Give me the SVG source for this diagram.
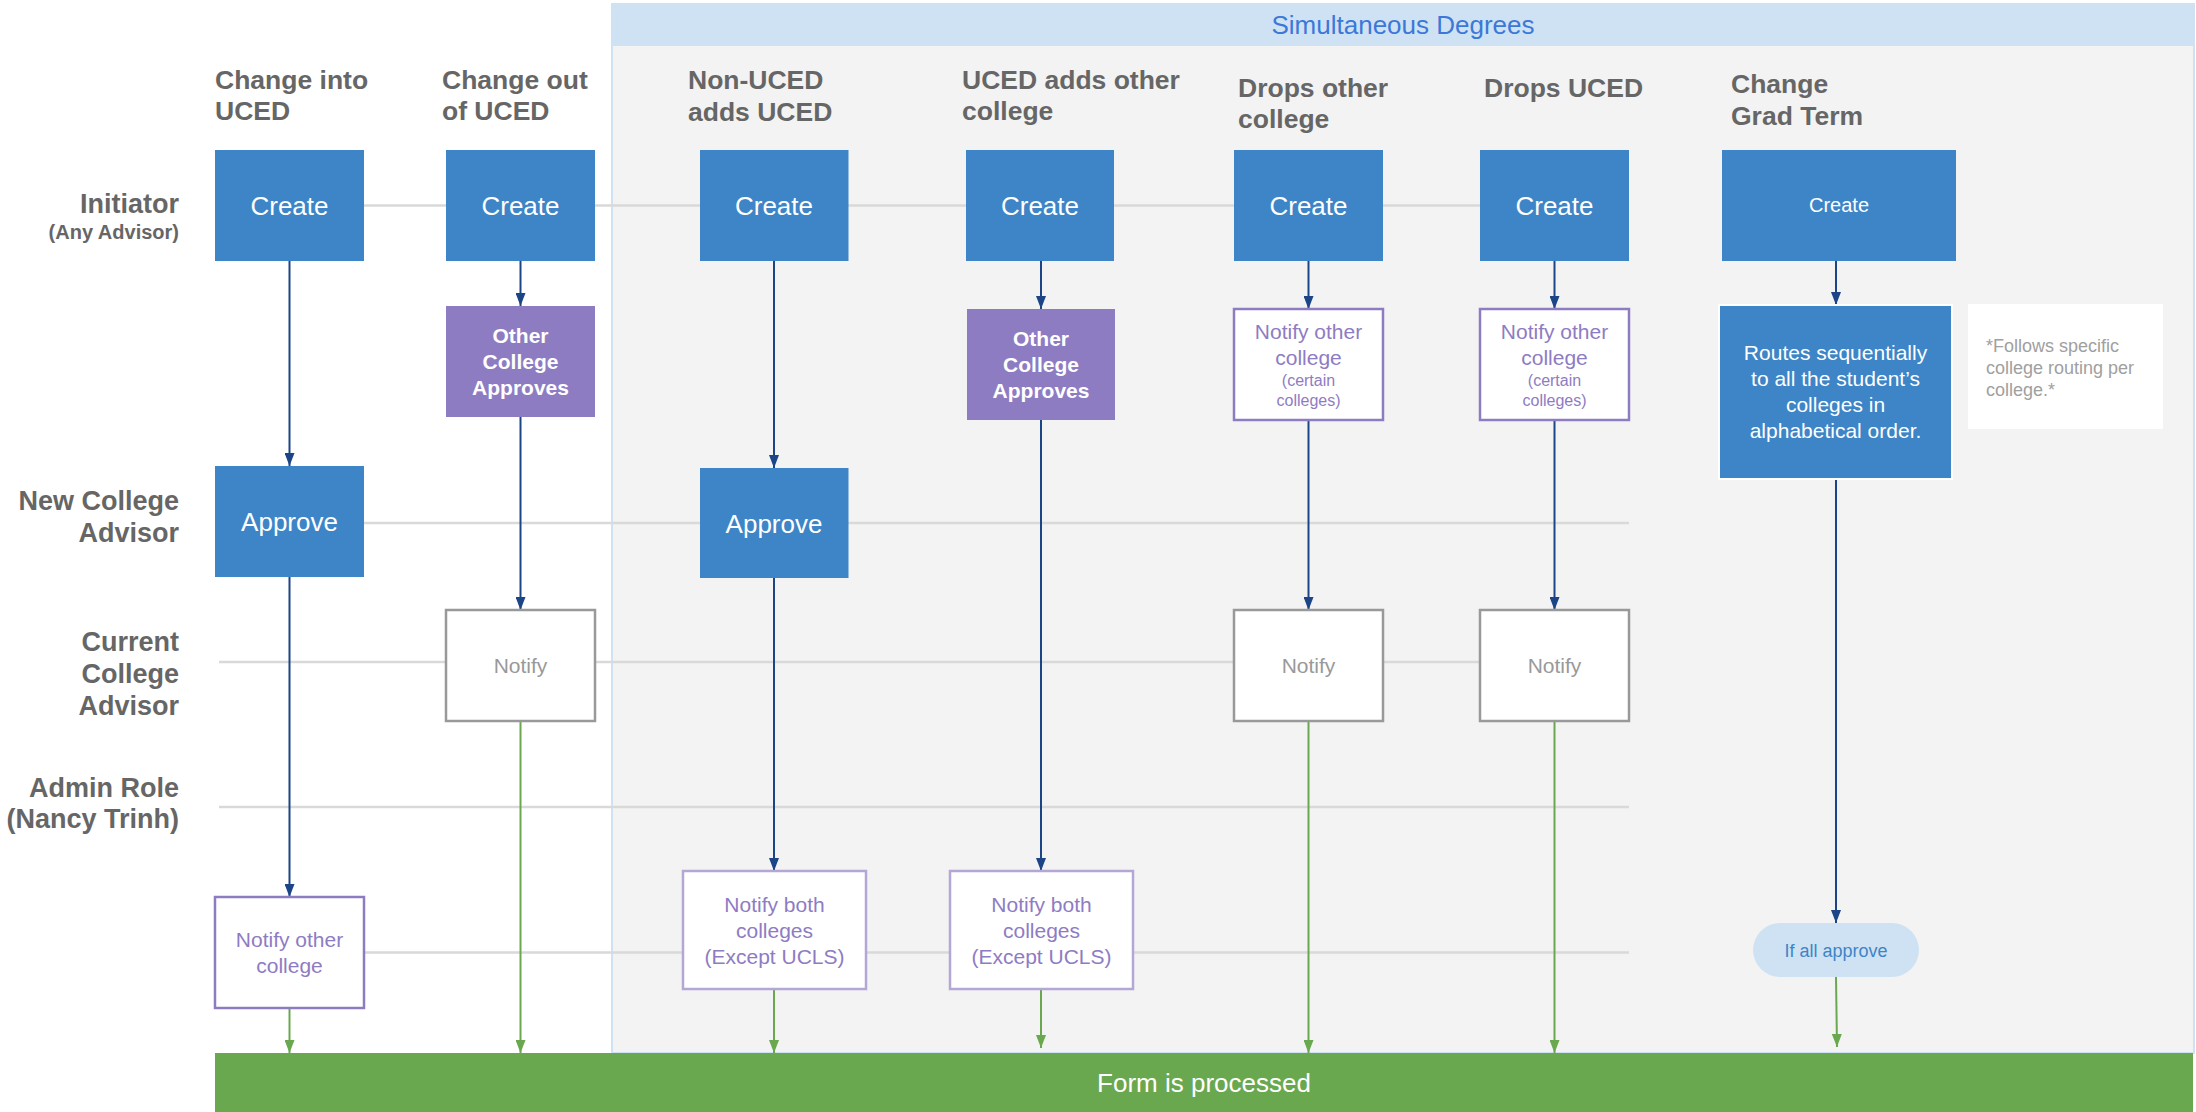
<svg xmlns="http://www.w3.org/2000/svg" width="2196" height="1112" viewBox="0 0 2196 1112">
<defs>
<style>
.t{font-family:"Liberation Sans",Arial,sans-serif}
.hdr{font-family:"Liberation Sans",Arial,sans-serif;font-weight:bold;font-size:26.5px;fill:#666666}
.lane{font-family:"Liberation Sans",Arial,sans-serif;font-weight:bold;font-size:27px;fill:#666666;text-anchor:end}
.lanes{font-family:"Liberation Sans",Arial,sans-serif;font-weight:bold;font-size:20px;fill:#666666;text-anchor:end}
.blue{fill:#3d85c6}
.purple{fill:#8e7cc3}
.wt{font-family:"Liberation Sans",Arial,sans-serif;fill:#ffffff;text-anchor:middle}
.pt{font-family:"Liberation Sans",Arial,sans-serif;fill:#8e7cc3;text-anchor:middle;font-size:21px}
.pts{font-family:"Liberation Sans",Arial,sans-serif;fill:#8e7cc3;text-anchor:middle;font-size:16px}
.gt{font-family:"Liberation Sans",Arial,sans-serif;fill:#999999;text-anchor:middle;font-size:21px}
.gbox{fill:#ffffff;stroke:#999999;stroke-width:2.5}
.pbox{fill:#ffffff;stroke:#8e7cc3;stroke-width:2.5}
.lbox{fill:#ffffff;stroke:#b4a7d6;stroke-width:2.5}
.ln{stroke:#d9d9d9;stroke-width:2.5;fill:none}
.cb{stroke:#1c4587;stroke-width:2;fill:none;marker-end:url(#ab)}
.cg{stroke:#6aa84f;stroke-width:2;fill:none;marker-end:url(#ag)}
</style>
<marker id="ab" viewBox="0 0 13 10" refX="13" refY="5" markerWidth="13" markerHeight="10" markerUnits="userSpaceOnUse" orient="auto"><path d="M0,0 L13,5 L0,10 z" fill="#1c4587"/></marker>
<marker id="ag" viewBox="0 0 13 10" refX="13" refY="5" markerWidth="13" markerHeight="10" markerUnits="userSpaceOnUse" orient="auto"><path d="M0,0 L13,5 L0,10 z" fill="#6aa84f"/></marker>
</defs>
<rect width="2196" height="1112" fill="#ffffff"/>
<g id="panel">
<rect x="612" y="4" width="1582" height="1049" fill="#f3f3f3" stroke="#cfe2f3" stroke-width="2"/>
<rect x="612" y="4" width="1582" height="42" fill="#cfe2f3"/>
<text class="t" x="1403" y="34" font-size="26" fill="#3c78d8" text-anchor="middle">Simultaneous Degrees</text>
</g>
<g id="lanes">
<line class="ln" x1="364" y1="205.5" x2="1480" y2="205.5"/>
<line class="ln" x1="364" y1="523" x2="1629" y2="523"/>
<line class="ln" x1="219" y1="662" x2="1629" y2="662"/>
<line class="ln" x1="219" y1="807" x2="1629" y2="807"/>
<line class="ln" x1="364" y1="952.5" x2="1629" y2="952.5"/>
</g>
<g id="lane-labels">
<text class="lane" x="179" y="213">Initiator</text>
<text class="lanes" x="179" y="239">(Any Advisor)</text>
<text class="lane" x="179" y="510">New College</text>
<text class="lane" x="179" y="542">Advisor</text>
<text class="lane" x="179" y="651">Current</text>
<text class="lane" x="179" y="683">College</text>
<text class="lane" x="179" y="715">Advisor</text>
<text class="lane" x="179" y="797">Admin Role</text>
<text class="lane" x="179" y="828">(Nancy Trinh)</text>
</g>
<g id="column-headers">
<text class="hdr" x="215" y="89">Change into</text>
<text class="hdr" x="215" y="120">UCED</text>
<text class="hdr" x="442" y="89">Change out</text>
<text class="hdr" x="442" y="120">of UCED</text>
<text class="hdr" x="688" y="89">Non-UCED</text>
<text class="hdr" x="688" y="121">adds UCED</text>
<text class="hdr" x="962" y="89">UCED adds other</text>
<text class="hdr" x="962" y="120">college</text>
<text class="hdr" x="1238" y="97">Drops other</text>
<text class="hdr" x="1238" y="128">college</text>
<text class="hdr" x="1484" y="97">Drops UCED</text>
<text class="hdr" x="1731" y="93">Change</text>
<text class="hdr" x="1731" y="125">Grad Term</text>
</g>
<g id="connectors">
<line class="cb" x1="289.5" y1="261" x2="289.5" y2="466"/>
<line class="cb" x1="289.5" y1="577" x2="289.5" y2="897"/>
<line class="cg" x1="289.5" y1="1008" x2="289.5" y2="1053"/>
<line class="cb" x1="520.5" y1="261" x2="520.5" y2="306"/>
<line class="cb" x1="520.5" y1="417" x2="520.5" y2="610"/>
<line class="cg" x1="520.5" y1="721" x2="520.5" y2="1053"/>
<line class="cb" x1="774" y1="261" x2="774" y2="468"/>
<line class="cb" x1="774" y1="578" x2="774" y2="871"/>
<line class="cg" x1="774" y1="989" x2="774" y2="1053"/>
<line class="cb" x1="1041" y1="261" x2="1041" y2="309"/>
<line class="cb" x1="1041" y1="420" x2="1041" y2="871"/>
<line class="cg" x1="1041" y1="989" x2="1041" y2="1048"/>
<line class="cb" x1="1308.5" y1="261" x2="1308.5" y2="309"/>
<line class="cb" x1="1308.5" y1="420" x2="1308.5" y2="610"/>
<line class="cg" x1="1308.5" y1="721" x2="1308.5" y2="1053"/>
<line class="cb" x1="1554.5" y1="261" x2="1554.5" y2="309"/>
<line class="cb" x1="1554.5" y1="420" x2="1554.5" y2="610"/>
<line class="cg" x1="1554.5" y1="721" x2="1554.5" y2="1053"/>
<line class="cb" x1="1836" y1="261" x2="1836" y2="305"/>
<line class="cb" x1="1836" y1="479" x2="1836" y2="923"/>
<line class="cg" x1="1836" y1="977" x2="1837" y2="1047"/>
</g>
<g id="create-1"><rect class="blue" x="215" y="150" width="149" height="111"/><text class="wt" x="289.5" y="215" font-size="26">Create</text></g>
<g id="create-2"><rect class="blue" x="446" y="150" width="149" height="111"/><text class="wt" x="520.5" y="215" font-size="26">Create</text></g>
<g id="create-3"><rect class="blue" x="700" y="150" width="148.5" height="111"/><text class="wt" x="774" y="215" font-size="26">Create</text></g>
<g id="create-4"><rect class="blue" x="966" y="150" width="148" height="111"/><text class="wt" x="1040" y="215" font-size="26">Create</text></g>
<g id="create-5"><rect class="blue" x="1234" y="150" width="149" height="111"/><text class="wt" x="1308.5" y="215" font-size="26">Create</text></g>
<g id="create-6"><rect class="blue" x="1480" y="150" width="149" height="111"/><text class="wt" x="1554.5" y="215" font-size="26">Create</text></g>
<g id="create-7"><rect class="blue" x="1722" y="150" width="234" height="111"/><text class="wt" x="1839" y="212" font-size="20">Create</text></g>
<g id="other-college-approves-2"><rect class="purple" x="446" y="306" width="149" height="111"/>
<text class="wt" x="520.5" y="343" font-size="21" font-weight="bold">Other</text>
<text class="wt" x="520.5" y="369" font-size="21" font-weight="bold">College</text>
<text class="wt" x="520.5" y="395" font-size="21" font-weight="bold">Approves</text></g>
<g id="other-college-approves-4"><rect class="purple" x="967" y="309" width="148" height="111"/>
<text class="wt" x="1041" y="346" font-size="21" font-weight="bold">Other</text>
<text class="wt" x="1041" y="372" font-size="21" font-weight="bold">College</text>
<text class="wt" x="1041" y="398" font-size="21" font-weight="bold">Approves</text></g>
<g id="notify-other-certain-5"><rect class="pbox" x="1234" y="309" width="149" height="111"/>
<text class="pt" x="1308.5" y="339">Notify other</text>
<text class="pt" x="1308.5" y="365">college</text>
<text class="pts" x="1308.5" y="386">(certain</text>
<text class="pts" x="1308.5" y="406">colleges)</text></g>
<g id="notify-other-certain-6"><rect class="pbox" x="1480" y="309" width="149" height="111"/>
<text class="pt" x="1554.5" y="339">Notify other</text>
<text class="pt" x="1554.5" y="365">college</text>
<text class="pts" x="1554.5" y="386">(certain</text>
<text class="pts" x="1554.5" y="406">colleges)</text></g>
<g id="routes-7"><rect class="blue" x="1719" y="305" width="233" height="174" stroke="#ffffff" stroke-width="2"/>
<text class="wt" x="1835.5" y="360" font-size="21">Routes sequentially</text>
<text class="wt" x="1835.5" y="386" font-size="21">to all the student’s</text>
<text class="wt" x="1835.5" y="412" font-size="21">colleges in</text>
<text class="wt" x="1835.5" y="438" font-size="21">alphabetical order.</text></g>
<g id="note-7"><rect x="1968" y="304" width="195" height="125" fill="#ffffff"/>
<text class="t" x="1986" y="352" font-size="18" fill="#a0a0a0">*Follows specific</text>
<text class="t" x="1986" y="374" font-size="18" fill="#a0a0a0">college routing per</text>
<text class="t" x="1986" y="396" font-size="18" fill="#a0a0a0">college.*</text></g>
<g id="approve-1"><rect class="blue" x="215" y="466" width="149" height="111"/><text class="wt" x="289.5" y="531" font-size="26">Approve</text></g>
<g id="approve-3"><rect class="blue" x="700" y="468" width="148.5" height="110"/><text class="wt" x="774" y="533" font-size="26">Approve</text></g>
<g id="notify-2"><rect class="gbox" x="446" y="610" width="149" height="111"/><text class="gt" x="520.5" y="673">Notify</text></g>
<g id="notify-5"><rect class="gbox" x="1234" y="610" width="149" height="111"/><text class="gt" x="1308.5" y="673">Notify</text></g>
<g id="notify-6"><rect class="gbox" x="1480" y="610" width="149" height="111"/><text class="gt" x="1554.5" y="673">Notify</text></g>
<g id="notify-other-1"><rect class="pbox" x="215" y="897" width="149" height="111"/>
<text class="pt" x="289.5" y="947">Notify other</text>
<text class="pt" x="289.5" y="973">college</text></g>
<g id="notify-both-3"><rect class="lbox" x="683" y="871" width="183" height="118"/>
<text class="pt" x="774.5" y="912">Notify both</text>
<text class="pt" x="774.5" y="938">colleges</text>
<text class="pt" x="774.5" y="964">(Except UCLS)</text></g>
<g id="notify-both-4"><rect class="lbox" x="950" y="871" width="183" height="118"/>
<text class="pt" x="1041.5" y="912">Notify both</text>
<text class="pt" x="1041.5" y="938">colleges</text>
<text class="pt" x="1041.5" y="964">(Except UCLS)</text></g>
<g id="if-all-approve"><rect x="1753" y="923" width="166" height="54" rx="27" ry="27" fill="#cfe2f3"/>
<text class="t" x="1836" y="956.5" font-size="18" fill="#3d85c6" text-anchor="middle">If all approve</text></g>
<g id="form-processed"><rect x="215" y="1053" width="1978" height="59" fill="#6aa84f"/>
<text class="wt" x="1204" y="1092" font-size="26">Form is processed</text></g>
</svg>
